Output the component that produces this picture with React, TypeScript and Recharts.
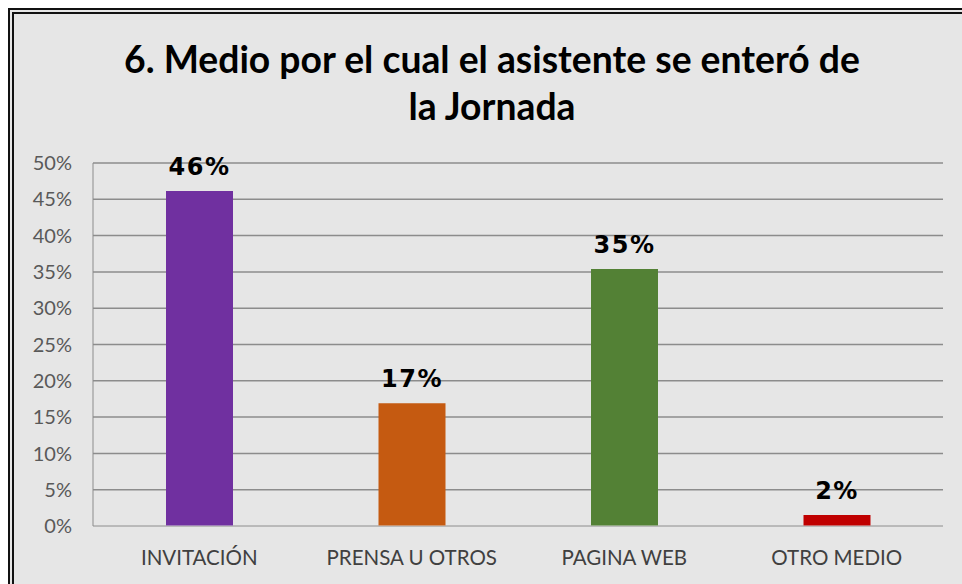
import React from "react";
import { BarChart, Bar, XAxis, YAxis, CartesianGrid, Cell, LabelList } from "recharts";

// datos
const categorias = ["INVITACIÓN", "PRENSA U OTROS", "PAGINA WEB", "OTRO MEDIO"];
const porcentajes = [0.4615, 0.169, 0.354, 0.015];
const colores = ["#7030A0", "#C55A11", "#538135", "#C00000"];
const ticksY = [0, 0.05, 0.1, 0.15, 0.2, 0.25, 0.3, 0.35, 0.4, 0.45, 0.5];

const data = categorias.map((c, i) => ({ medio: c, valor: porcentajes[i] }));

const pct = (v: number) => `${Math.round(v * 100)}%`;
const fuente = "Lato, 'Open Sans', sans-serif";

export default function App() {
  return (
    <div style={{ position: "fixed", left: 0, top: 0, width: 962, height: 584, overflow: "hidden", background: "#fff" }}>
      <div
        style={{
          position: "absolute", left: 8, top: 8, width: 980, height: 600,
          border: "6px double #111", boxSizing: "border-box", background: "#e6e6e6",
        }}
      />
      <div
        style={{
          position: "absolute", left: 42, width: 900, top: 35, textAlign: "center",
          fontFamily: fuente, fontWeight: 700, fontSize: 37.3, lineHeight: "47px", color: "#000",
        }}
      >
        6. Medio por el cual el asistente se enteró de
        <br />
        la Jornada
      </div>
      <div style={{ position: "absolute", left: 0, top: 0 }}>
        <BarChart
          width={962}
          height={584}
          data={data}
          margin={{ top: 163, right: 19, bottom: 0, left: 0 }}
          barSize={67}
        >
          <CartesianGrid vertical={false} stroke="#8c8c8c" strokeWidth={1.5} yAxisId="izq" />
          <XAxis
            dataKey="medio"
            xAxisId="abajo"
            tickLine={false}
            axisLine={{ stroke: "#d0d0d0" }}
            tick={{ fill: "#404040", fontSize: 20.5, fontFamily: fuente }}
            tickMargin={18}
            height={58}
          />
          <XAxis dataKey="medio" xAxisId="arriba" orientation="top" height={0} tick={false} tickLine={false} axisLine={{ stroke: "#8c8c8c" }} />
          <YAxis
            yAxisId="izq"
            domain={[0, 0.5]}
            ticks={ticksY}
            tickFormatter={pct}
            width={93}
            tickSize={0}
            tickMargin={21}
            tickLine={false}
            axisLine={{ stroke: "#8c8c8c" }}
            tick={{ fill: "#595959", fontSize: 20, fontFamily: fuente }}
          />
          <YAxis yAxisId="der" orientation="right" domain={[0, 0.5]} width={0} tick={false} tickLine={false} axisLine={{ stroke: "#8c8c8c" }} />
          <Bar dataKey="valor" xAxisId="abajo" yAxisId="izq" isAnimationActive={false}>
            {data.map((d, i) => (
              <Cell key={d.medio} fill={colores[i]} />
            ))}
            <LabelList
              dataKey="valor"
              position="top"
              offset={16}
              formatter={(v: any) => pct(Number(v))}
              style={{ fill: "#000", fontWeight: 700, fontSize: 24, letterSpacing: 1.5, fontFamily: "'DejaVu Sans', sans-serif" }}
            />
          </Bar>
        </BarChart>
      </div>
    </div>
  );
}
